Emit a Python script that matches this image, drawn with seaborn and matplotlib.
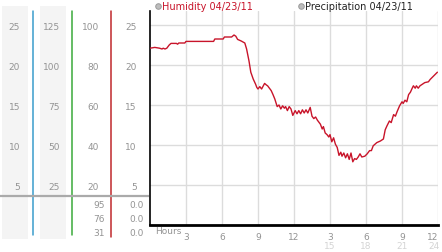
import matplotlib
matplotlib.use("Agg")
import matplotlib.pyplot as plt
from matplotlib.lines import Line2D
import seaborn as sns
import pandas as pd

sns.set_style("white")
plt.rcParams['font.family'] = ['DejaVu Sans']

# ---- data ----
hours = [0.0, 0.4, 0.8, 1.0, 1.1, 1.25, 1.4, 1.6, 1.75, 2.2, 2.3, 2.4, 2.9, 3.0, 5.3, 5.4, 6.1, 6.2, 6.8,
         7.0, 7.15, 7.3, 7.6, 7.9, 8.05, 8.25, 8.4, 8.6, 8.8, 8.9, 9.0, 9.15, 9.3, 9.55, 9.7, 9.8, 10.1,
         10.25, 10.4, 10.6, 10.75, 10.9, 11.05, 11.2, 11.3, 11.45, 11.6, 11.75, 11.9, 12.1, 12.25, 12.4,
         12.55, 12.7, 12.85, 13.0, 13.15, 13.35, 13.5, 13.65, 13.8, 13.95, 14.2, 14.35, 14.45, 14.6, 14.75,
         14.9, 15.0, 15.15, 15.3, 15.45, 15.6, 15.75, 15.9, 16.0, 16.15, 16.3, 16.45, 16.6, 16.75, 16.9,
         17.05, 17.2, 17.35, 17.5, 17.65, 17.9, 18.1, 18.3, 18.45, 18.6, 18.9, 19.2, 19.45, 19.6, 19.75,
         19.95, 20.1, 20.3, 20.45, 20.6, 20.8, 21.0, 21.1, 21.25, 21.4, 21.55, 21.7, 21.85, 21.95, 22.1,
         22.2, 22.35, 22.5, 22.7, 22.9, 23.2, 23.35, 23.55, 23.75, 23.95]
humidity = [88.4, 88.8, 88.4, 88.0, 88.4, 88.0, 88.4, 90.0, 90.8, 90.8, 90.4, 91.0, 91.0, 91.8, 91.8, 93.0,
            93.0, 94.0, 94.0, 95.0, 94.4, 92.8, 92.0, 91.0, 88.0, 82.0, 76.4, 73.0, 70.4, 68.8, 68.0, 69.2,
            68.0, 70.8, 70.0, 69.6, 67.2, 65.2, 63.0, 59.2, 60.0, 58.0, 59.6, 58.4, 59.2, 57.2, 59.2, 58.0,
            54.8, 57.2, 55.6, 57.2, 55.6, 57.6, 56.0, 57.6, 56.0, 58.8, 54.4, 53.2, 54.0, 52.4, 50.4, 48.0,
            49.2, 46.0, 45.2, 44.0, 45.2, 41.6, 43.6, 40.4, 38.8, 34.8, 36.4, 34.4, 36.0, 33.6, 35.6, 32.8,
            36.0, 31.6, 33.2, 32.8, 34.0, 35.6, 34.0, 34.4, 35.6, 37.2, 37.2, 39.6, 41.2, 42.0, 43.0, 47.6,
            49.6, 52.0, 51.2, 55.2, 54.4, 56.8, 59.6, 61.6, 60.8, 62.4, 61.6, 65.2, 66.4, 68.4, 69.6, 68.4,
            69.6, 68.4, 69.6, 70.4, 71.2, 71.6, 72.8, 74.0, 75.2, 76.4]

y_ticks = [20, 40, 60, 80, 100]
col1_labels = ["5", "10", "15", "20", "25"]
col2_labels = ["25", "50", "75", "100", "125"]
col3_labels = ["20", "40", "60", "80", "100"]
col4_labels = ["5", "10", "15", "20", "25"]
summary_left = ["95", "76", "31"]
summary_right = ["0.0", "0.0", "0.0"]
summary_y = [10.85, 3.85, -3.35]
x_ticks = [3, 6, 9, 12, 15, 18, 21, 24]
x_labels = ["3", "6", "9", "12", "3", "6", "9", "12"]
x_labels2 = ["15", "18", "21", "24"]
legend_labels = ["Humidity 04/23/11", "Precipitation 04/23/11"]

df = pd.DataFrame({"hour": hours, "humidity": humidity})

W, H = 442, 253
fig = plt.figure(figsize=(W / 100, H / 100), dpi=100)
fig.patch.set_facecolor("white")

FS = 6.5
GRAY = "#939393"
RED = "#c8142a"

# ---- left panel ----
pax = fig.add_axes([0, 12 / H, 149 / W, 235 / H])
pax.set_xlim(0, 149)
pax.set_ylim(-7.5, 110)
pax.axis("off")
for x0, x1 in [(2, 28), (40, 66)]:
    pax.fill_between([x0, x1], -7, 109.5, color="#f4f4f4", lw=0, zorder=0)
pax.plot([33, 33], [-5, 107], color="#3a9ccc", lw=1.1, zorder=2)
pax.plot([72, 72], [-5, 107], color="#3aaa3a", lw=1.1, zorder=2)
pax.plot([111, 111], [-6, 107], color="#c0282c", lw=1.1, zorder=2)
pax.plot([0, 149], [14.7, 14.7], color="#aaaaaa", lw=1.6, zorder=3)
for xr, labels in [(20, col1_labels), (60, col2_labels), (99, col3_labels)]:
    for yv, lab in zip(y_ticks, labels):
        pax.text(xr, yv, lab, ha="right", va="center_baseline", fontsize=FS, color=GRAY)
for yv, a, b in zip(summary_y, summary_left, summary_right):
    pax.text(105, yv, a, ha="right", va="center_baseline", fontsize=FS, color=GRAY)
    pax.text(144, yv, b, ha="right", va="center_baseline", fontsize=FS, color=GRAY)

# ---- main plot ----
ax = fig.add_axes([150 / W, 27 / H, 288 / W, 214 / H])
ax.set_facecolor("none")
sns.lineplot(data=df, x="hour", y="humidity", ax=ax, color=RED, lw=1.0, zorder=3)
ax.set_xlim(0, 24)
ax.set_ylim(0, 107)
ax.set_xlabel("")
ax.set_ylabel("")
for t in x_ticks:
    ax.axvline(t, color="#dcdcdc", lw=1, zorder=1)
for t in y_ticks:
    ax.axhline(t, color="#dcdcdc", lw=1, zorder=1)
ax.set_yticks(y_ticks)
ax.set_yticklabels(col4_labels)
ax.set_xticks(x_ticks)
ax.set_xticklabels(x_labels)
ax.tick_params(axis="y", direction="out", length=3, width=1.5, color="#b0b0b0",
               labelsize=FS, labelcolor=GRAY, pad=6.5)
ax.tick_params(axis="x", direction="out", length=3, width=1.5, color="#b0b0b0",
               labelsize=FS, labelcolor=GRAY, pad=2)
ax.get_xticklabels()[-1].set_ha("right")
for s in ["top", "right"]:
    ax.spines[s].set_visible(False)
ax.spines["left"].set_color("black")
ax.spines["left"].set_linewidth(1.2)
ax.spines["bottom"].set_color("black")
ax.spines["bottom"].set_linewidth(2)

xt = ax.get_xaxis_transform()
ax.text(0.4, -0.027, "Hours", transform=xt, ha="left", va="center", fontsize=FS, color=GRAY)
for t, lab in zip(x_ticks[4:], x_labels2):
    ax.text(t + (0.15 if t == 24 else 0), -0.097, lab, transform=xt,
            ha="right" if t == 24 else "center", va="center", fontsize=FS, color="#d4d4d4",
            clip_on=False)

# ---- legend ----
handles = [Line2D([], [], ls="none", marker="o", ms=4, mfc="#bdbdbd", mec="#9a9a9a", mew=0.7)
           for _ in legend_labels]
leg = fig.legend(handles, legend_labels, loc="center left", bbox_to_anchor=(155 / W, 1 - 7.5 / H),
                 bbox_transform=fig.transFigure, ncol=2, frameon=False, fontsize=7,
                 handlelength=0.6, handletextpad=0.15, columnspacing=4.6,
                 borderpad=0, borderaxespad=0)
leg.get_texts()[0].set_color(RED)
leg.get_texts()[1].set_color("#222222")

fig.savefig("out.png", dpi=100, facecolor="white")
